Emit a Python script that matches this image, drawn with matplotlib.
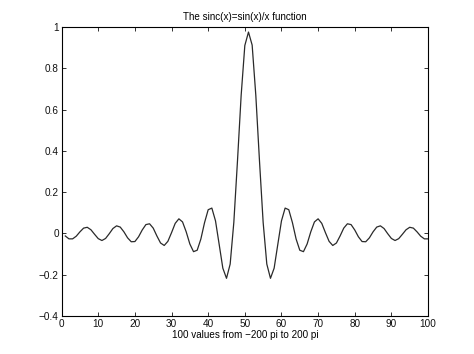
import matplotlib
matplotlib.use("Agg")
import matplotlib.pyplot as plt

plt.rcParams['font.family'] = ['Liberation Sans', 'DejaVu Sans']

# sample index 1..100 and the value
idx = list(range(1, 101))
vals = [
    -0.012, -0.026, -0.026, -0.013, 0.008, 0.026, 0.030, 0.018, -0.004, -0.025,
    -0.034, -0.024, -0.001, 0.024, 0.037, 0.031, 0.008, -0.021, -0.040, -0.039,
    -0.016, 0.017, 0.043, 0.047, 0.026, -0.012, -0.046, -0.058, -0.038, 0.004,
    0.049, 0.071, 0.056, 0.008, -0.051, -0.088, -0.081, -0.027, 0.052, 0.115,
    0.123, 0.061, -0.053, -0.168, -0.217, -0.148, 0.054, 0.352, 0.669, 0.910,
    0.975,
    0.912, 0.669, 0.352, 0.054, -0.148, -0.217, -0.168, -0.053, 0.061, 0.123,
    0.115, 0.052, -0.027, -0.081, -0.088, -0.051, 0.008, 0.056, 0.071, 0.049,
    0.004, -0.038, -0.058, -0.046, -0.012, 0.026, 0.047, 0.043, 0.017, -0.016,
    -0.039, -0.040, -0.021, 0.008, 0.031, 0.037, 0.024, -0.001, -0.024, -0.034,
    -0.025, -0.004, 0.018, 0.030, 0.026, 0.008, -0.013, -0.026, -0.026,
]

xticks = list(range(0, 101, 10))
yticks = [-0.4, -0.2, 0, 0.2, 0.4, 0.6, 0.8, 1]
ytick_labels = ['\u22120.4', '\u22120.2', '0', '0.2', '0.4', '0.6', '0.8', '1']

fig = plt.figure(figsize=(4.74, 3.54), dpi=100)
ax = fig.add_axes([0.130, 0.107, 0.773, 0.817])

ax.plot(idx, vals, color='#2a2a2a', linewidth=0.9)

ax.set_xlim(0, 100)
ax.set_ylim(-0.4, 1)
ax.set_xticks(xticks)
ax.set_yticks(yticks)
ax.set_yticklabels(ytick_labels)
ax.tick_params(direction='in', length=3, width=0.6, labelsize=7.2,
               top=True, right=True, pad=2, colors='#111111')
for s in ax.spines.values():
    s.set_linewidth(0.8)

ax.set_title('The sinc(x)=sin(x)/x function', fontsize=7.1, pad=5)
ax.set_xlabel('100 values from \u2212200 pi to 200 pi', fontsize=7.1, labelpad=1)

fig.savefig('out.png', dpi=100)
